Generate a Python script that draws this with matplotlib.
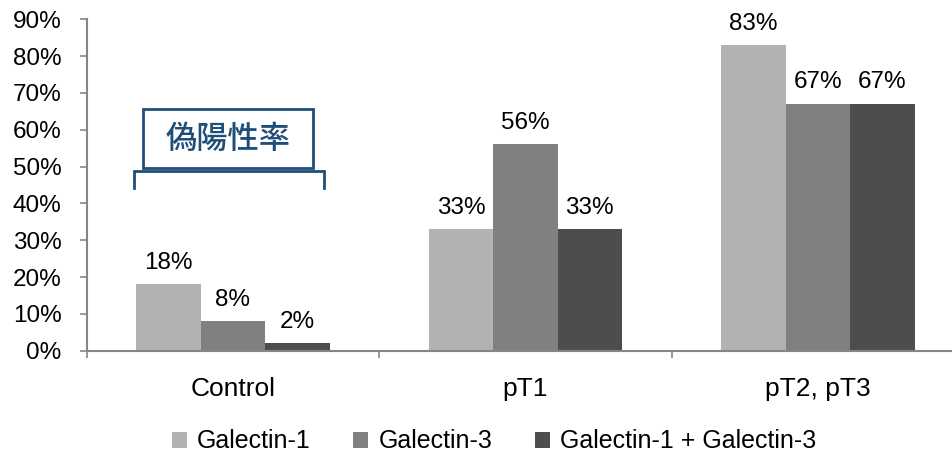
import numpy as np
import matplotlib.pyplot as plt
from matplotlib.patches import Rectangle

plt.rcParams['font.family'] = ['Liberation Sans', 'Noto Sans CJK JP', 'DejaVu Sans']

groups = ["Control", "pT1", "pT2, pT3"]
series = ["Galectin-1", "Galectin-3", "Galectin-1 + Galectin-3"]
gal1 = [18, 8, 2]
gal3 = [33, 56, 33]
gal13 = [83, 67, 67]
# values per group, one list per group
by_group = [gal1, gal3, gal13]
colors = ["#b2b2b2", "#808080", "#4d4d4d"]
yticks = [0, 10, 20, 30, 40, 50, 60, 70, 80, 90]
axis_gray = "#868686"
note_blue = "#1f4e79"

fig = plt.figure(figsize=(9.52, 4.57), dpi=100)
ax = fig.add_axes([0.0911, 0.2326, 0.9215, 0.7252])

x = np.arange(len(groups))
w = 0.2205
for i, name in enumerate(series):
    vals = [g[i] for g in by_group]
    pos = x + (i - 1) * w
    ax.bar(pos, vals, w, color=colors[i], label=name, edgecolor="none", zorder=2)
    for px, v in zip(pos, vals):
        ax.annotate(f"{v}%", (px, v), xytext=(0, 15.5), textcoords="offset points",
                    ha="center", va="center", fontsize=17.5)

ax.set_xlim(-0.5, 2.5)
ax.set_ylim(0, 90)
ax.set_yticks(yticks)
ax.set_yticklabels([f"{t}%" for t in yticks], fontsize=17.5)
ax.set_xticks(x)
ax.set_xticklabels(groups, fontsize=19)
ax.set_xticks([-0.5, 0.5, 1.5], minor=True)
ax.tick_params(axis="x", which="major", length=0, pad=19)
ax.tick_params(axis="x", which="minor", length=5, width=1.2, color=axis_gray, direction="out")
ax.tick_params(axis="y", length=5, width=1.2, color=axis_gray, pad=13)

for s in ["top", "right"]:
    ax.spines[s].set_visible(False)
for s in ["left", "bottom"]:
    ax.spines[s].set_color(axis_gray)
    ax.spines[s].set_linewidth(1.5)
ax.spines["bottom"].set_clip_on(False)

# boxed note with a bracket over the control group
ax.add_patch(Rectangle((-0.307, 49.6), 0.581, 16.1, fill=False,
                       edgecolor=note_blue, linewidth=2, zorder=3))
ax.text(-0.016, 57.6, "偽陽性率", color=note_blue, fontsize=22.5, weight="medium",
        family=["Noto Sans CJK JP"], ha="center", va="center")
ax.plot([-0.338, -0.338, 0.311, 0.311], [44.2, 48.8, 48.8, 44.2],
        color=note_blue, linewidth=2, solid_joinstyle="miter")

ax.legend(loc="center", bbox_to_anchor=(0.519, 0.034), bbox_transform=fig.transFigure,
          ncol=3, frameon=False, fontsize=18, handlelength=0.6, handleheight=0.6,
          handletextpad=0.4, columnspacing=1.7, borderaxespad=0, borderpad=0)

fig.savefig("out.png", dpi=100)
